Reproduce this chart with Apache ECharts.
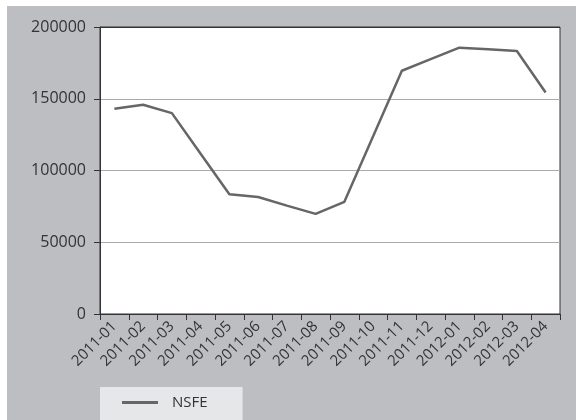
<!DOCTYPE html>
<html>
<head>
<meta charset="utf-8">
<script src="https://cdn.jsdelivr.net/npm/echarts@6/dist/echarts.min.js"></script>
<style>
  html, body { margin: 0; padding: 0; background: #fff; }
  #wrap { position: relative; width: 576px; height: 420px; }
  #bg { position: absolute; left: 7px; top: 6px; right: 0; bottom: 0; background: #bdbec2; }
  #main { position: absolute; left: 0; top: 0; width: 576px; height: 420px; }
</style>
</head>
<body>
<div id="wrap">
  <div id="bg"></div>
  <div id="main"></div>
</div>
<script>
var months = ['2011-01','2011-02','2011-03','2011-04','2011-05','2011-06','2011-07','2011-08',
  '2011-09','2011-10','2011-11','2011-12','2012-01','2012-02','2012-03','2012-04'];
var nsfe = [143000, 145800, 140000, 111700, 83400, 81500, 75500, 69800,
  78200, 123800, 169500, 177600, 185600, 184500, 183300, 154300];
var seriesName = 'NSFE';

var chart = echarts.init(document.getElementById('main'), null, { renderer: 'canvas' });
var fontFam = 'Open Sans';

var option = {
  backgroundColor: 'transparent',
  animation: false,
  grid: {
    left: 100, top: 27, right: 16, bottom: 106,
    show: true,
    backgroundColor: '#fff',
    borderColor: '#333',
    borderWidth: 1
  },
  legend: {
    data: [{ name: seriesName, icon: 'rect' }],
    left: 100,
    top: 387,
    padding: [8, 35, 12, 22],
    backgroundColor: '#e6e7e9',
    itemWidth: 36,
    itemHeight: 3,
    textStyle: { color: '#333', fontSize: 15, fontFamily: fontFam, padding: [0, 0, 0, 9] }
  },
  xAxis: {
    type: 'category',
    data: months,
    boundaryGap: true,
    axisLine: { lineStyle: { color: '#333', width: 1 } },
    axisTick: { show: true, interval: 0, length: 6, lineStyle: { color: '#333' } },
    axisLabel: {
      interval: 0, rotate: 45, margin: 10,
      color: '#333', fontSize: 15, fontFamily: fontFam
    },
    splitLine: { show: false }
  },
  yAxis: {
    type: 'value',
    min: 0, max: 200000, interval: 50000,
    axisLine: { show: true, lineStyle: { color: '#333', width: 1 } },
    axisTick: { show: true, length: 6, lineStyle: { color: '#333' } },
    axisLabel: {
      margin: 14, color: '#333', fontSize: 16, fontFamily: fontFam,
      formatter: function (v) { return String(v); }
    },
    splitLine: { show: true, lineStyle: { color: ['#333', '#aaa', '#aaa', '#aaa', '#333'], width: 1 } }
  },
  series: [{
    name: seriesName,
    type: 'line',
    data: nsfe,
    symbol: 'none',
    lineStyle: { color: '#666', width: 2.5 },
    itemStyle: { color: '#666' }
  }]
};

chart.setOption(option);
</script>
</body>
</html>
